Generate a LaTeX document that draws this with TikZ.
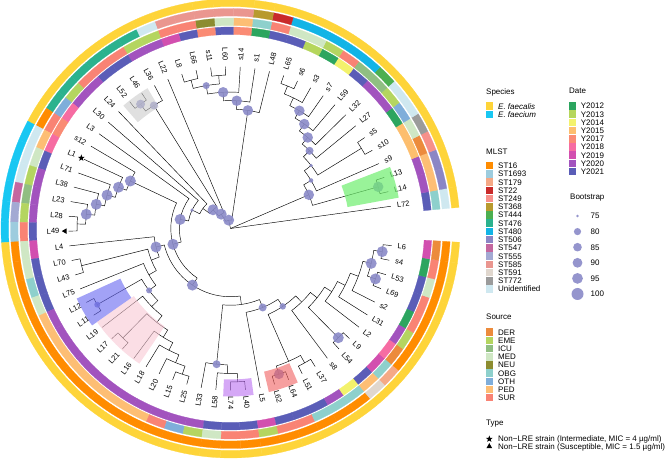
\documentclass[tikz,border=0pt]{standalone}
\usepackage{fontspec}
\setmainfont{Liberation Sans}
\usetikzlibrary{shapes.geometric,positioning}

% species
\definecolor{fs}{HTML}{FED439}
\definecolor{fm}{HTML}{18C7F2}
% MLST
\definecolor{m16}{HTML}{FF8C00}
\definecolor{m1693}{HTML}{9DCCDE}
\definecolor{m179}{HTML}{F5A986}
\definecolor{m22}{HTML}{C92A2A}
\definecolor{m249}{HTML}{F7908A}
\definecolor{m368}{HTML}{B89A2E}
\definecolor{m444}{HTML}{4CAF50}
\definecolor{m476}{HTML}{2BB28E}
\definecolor{m480}{HTML}{12B4E6}
\definecolor{m506}{HTML}{8B86C5}
\definecolor{m547}{HTML}{C4679F}
\definecolor{m555}{HTML}{A3A9D3}
\definecolor{m585}{HTML}{EA968F}
\definecolor{m591}{HTML}{E0D7CE}
\definecolor{m772}{HTML}{9B9B9B}
\definecolor{mUn}{HTML}{CFE8F0}
% source
\definecolor{sDER}{HTML}{EC8B3C}
\definecolor{sEME}{HTML}{B4D560}
\definecolor{sICU}{HTML}{90BE82}
\definecolor{sMED}{HTML}{CFE7C4}
\definecolor{sNEU}{HTML}{8C8C30}
\definecolor{sOBG}{HTML}{8ED0CC}
\definecolor{sOTH}{HTML}{7FAEDA}
\definecolor{sPED}{HTML}{FDBE74}
\definecolor{sSUR}{HTML}{F98374}
% date
\definecolor{d12}{HTML}{2CA55F}
\definecolor{d13}{HTML}{B5D65C}
\definecolor{d14}{HTML}{F3F26C}
\definecolor{d15}{HTML}{FDBE6E}
\definecolor{d17}{HTML}{FA8B74}
\definecolor{d18}{HTML}{F66CA2}
\definecolor{d19}{HTML}{D24FAF}
\definecolor{d20}{HTML}{A253BE}
\definecolor{d21}{HTML}{5A5DB7}
\definecolor{bsc}{HTML}{8A8AC8}

% one annular tile of a ring
\newcommand\ringtile[5]{%
  \fill[#5, draw=#5, line width=0.25pt] (#1:#3) arc[start angle=#1, end angle=#2, radius=#3]
    -- (#2:#4) arc[start angle=#2, end angle=#1, radius=#4] -- cycle;}
\newcommand\hilite[5]{%
  \fill[#5] (#1:#3) arc[start angle=#1, end angle=#2, radius=#3]
    -- (#2:#4) arc[start angle=#2, end angle=#1, radius=#4] -- cycle;}
% tip: name, slot, label radius
\newcommand\tipnode[3]{%
  \pgfmathsetmacro\tang{7.9+5.243*#2}%
  \expandafter\xdef\csname ty@#1\endcsname{#2}%
  \expandafter\xdef\csname th@#1\endcsname{0}%
  \coordinate (#1) at (\tang:162);
  \pgfmathtruncatemacro\tflip{(\tang>90)&&(\tang<270)}%
  \ifnum\tflip=1
    \pgfmathsetmacro\trot{\tang-180}%
    \node[tiplab, anchor=east, rotate=\trot] (#1-lab) at (\tang:#3) {#1};
  \else
    \node[tiplab, anchor=west, rotate=\tang] (#1-lab) at (\tang:#3) {#1};
  \fi}
% clade: parent, first child, second child
\newcommand\clade[3]{%
  \edef\cya{\csname ty@#2\endcsname}\edef\cyb{\csname ty@#3\endcsname}%
  \edef\cha{\csname th@#2\endcsname}\edef\chb{\csname th@#3\endcsname}%
  \pgfmathsetmacro\cyp{(\cya+\cyb)/2}%
  \pgfmathsetmacro\chp{max(\cha,\chb)+1}%
  \pgfmathsetmacro\crp{162-8.526*\chp}%
  \pgfmathsetmacro\caa{7.9+5.243*\cya}%
  \pgfmathsetmacro\cab{7.9+5.243*\cyb}%
  \pgfmathsetmacro\cang{7.9+5.243*\cyp}%
  \expandafter\xdef\csname ty@#1\endcsname{\cyp}%
  \expandafter\xdef\csname th@#1\endcsname{\chp}%
  \coordinate (#1) at (\cang:\crp);
  \coordinate (#1-a) at (\caa:\crp);
  \draw[branch] (#2) -- (#1-a) arc[start angle=\caa, end angle=\cab, radius=\crp] -- (#3);}
\newcommand\bs[2]{\node[bsdot, minimum size=#2] (#1-bs) at (#1) {};}

\begin{document}
\begin{tikzpicture}[x=1pt, y=1pt,
  branch/.style={line width=0.45pt, black},
  tiplab/.style={font=\fontsize{7.5}{9}\selectfont, inner sep=0pt},
  bsdot/.style={circle, fill=bsc, fill opacity=0.9, inner sep=0pt},
  swatch/.style={rectangle, minimum width=6.8, minimum height=7.6, inner sep=0pt},
  legtext/.style={font=\fontsize{8}{9.6}\selectfont, inner sep=0pt, anchor=base west},
  legtitle/.style={font=\fontsize{8}{9.6}\selectfont, inner sep=0pt, anchor=base west},
  hlgreen/.style={fill={rgb,255:red,110;green,238;blue,110}, fill opacity=0.7},
  hlgrey/.style={fill=black!20, fill opacity=0.6},
  hlblue/.style={fill={rgb,255:red,100;green,100;blue,240}, fill opacity=0.6},
  hlpink/.style={fill={rgb,255:red,248;green,200;blue,212}, fill opacity=0.6},
  hlpurple/.style={fill={rgb,255:red,185;green,110;blue,240}, fill opacity=0.6},
  hlred/.style={fill={rgb,255:red,240;green,95;blue,95}, fill opacity=0.6}]
\useasboundingbox (0,0) rectangle (669,463);

\begin{scope}[shift={(230.5,234.5)}]
% rings: date, source, MLST, species
\foreach \cm/\cs/\cd/\cp [count=\i from 0] in {
  mUn/sOBG/d21/fs, m506/sPED/d20/fs, m506/sPED/d20/fs, m249/sDER/d15/fs,
  m772/sMED/d15/fs, mUn/sOTH/d12/fs, mUn/sEME/d20/fs, m444/sICU/d20/fs,
  m480/sICU/d21/fs, m480/sSUR/d14/fs, m480/sEME/d12/fs, m480/sMED/d13/fs,
  m480/sMED/d21/fs, m22/sSUR/d21/fs, m368/sOBG/d12/fs, m585/sPED/d17/fs,
  m585/sMED/d21/fs, m585/sNEU/d17/fs, m585/sSUR/d21/fs, m585/sSUR/d19/fs,
  mUn/sEME/d20/fs, m476/sEME/d20/fs, m476/sSUR/d21/fs, m476/sSUR/d21/fs,
  m476/sSUR/d20/fs, m476/sEME/d20/fs, m476/sOTH/d18/fs, m16/sSUR/d17/fs,
  mUn/sPED/d18/fm, mUn/sMED/d21/fm, mUn/sEME/d20/fm, m547/sICU/d20/fm,
  m555/sEME/d20/fm, m1693/sSUR/d21/fm, m16/sMED/d19/fs, m16/sMED/d21/fs,
  m16/sOBG/d21/fs, m16/sMED/d21/fs, m16/sPED/d20/fs, m16/sPED/d20/fs,
  m16/sPED/d20/fs, m16/sPED/d20/fs, m16/sPED/d20/fs, m16/sPED/d20/fs,
  m16/sPED/d20/fs, m16/sPED/d20/fs, m16/sSUR/d20/fs, m16/sOTH/d20/fs,
  m16/sEME/d20/fs, m16/sMED/d21/fs, m16/sSUR/d21/fs, m16/sSUR/d21/fs,
  m16/sEME/d19/fs, m16/sSUR/d21/fs, m16/sSUR/d21/fs, m16/sOBG/d21/fs,
  m16/sOBG/d20/fs, m16/sOBG/d14/fs, m591/sPED/d21/fs, m179/sOBG/d19/fs,
  m16/sDER/d18/fs, m16/sEME/d20/fs, m16/sSUR/d12/fs, m16/sSUR/d21/fs,
  m16/sMED/d21/fs, m16/sSUR/d12/fs, m16/sDER/d19/fs}{
  \pgfmathsetmacro\ta{5.2785+5.243*\i}
  \pgfmathsetmacro\tb{\ta+5.243}
  \ringtile{\ta}{\tb}{194}{201.5}{\cd}
  \ringtile{\ta}{\tb}{203}{210.5}{\cs}
  \ringtile{\ta}{\tb}{212.5}{220}{\cm}
  \ringtile{\ta}{\tb}{222}{229.5}{\cp}
}

% tips
\tipnode{L72}{0}{168} \tipnode{L14}{1}{168} \tipnode{L13}{2}{168} \tipnode{s9}{3}{168}
\tipnode{s10}{4}{168} \tipnode{s5}{5}{168} \tipnode{L27}{6}{168} \tipnode{L32}{7}{168}
\tipnode{L59}{8}{168} \tipnode{s7}{9}{168} \tipnode{s3}{10}{168} \tipnode{s6}{11}{168}
\tipnode{L65}{12}{168} \tipnode{L48}{13}{168} \tipnode{s1}{14}{168} \tipnode{s14}{15}{168}
\tipnode{L60}{16}{168} \tipnode{s11}{17}{168} \tipnode{L66}{18}{168} \tipnode{L8}{19}{168}
\tipnode{L22}{20}{168} \tipnode{L36}{21}{168} \tipnode{L46}{22}{168} \tipnode{L52}{23}{168}
\tipnode{L24}{24}{168} \tipnode{L30}{25}{168} \tipnode{L3}{26}{168} \tipnode{s12}{27}{168}
\tipnode{L1}{28}{171} \tipnode{L71}{29}{168} \tipnode{L38}{30}{168} \tipnode{L23}{31}{168}
\tipnode{L28}{32}{168} \tipnode{L49}{33}{171} \tipnode{L4}{34}{168} \tipnode{L70}{35}{168}
\tipnode{L43}{36}{168} \tipnode{L75}{37}{168} \tipnode{L12}{38}{168} \tipnode{L11}{39}{168}
\tipnode{L19}{40}{168} \tipnode{L17}{41}{168} \tipnode{L21}{42}{168} \tipnode{L16}{43}{168}
\tipnode{L18}{44}{168} \tipnode{L20}{45}{168} \tipnode{L15}{46}{168} \tipnode{L25}{47}{168}
\tipnode{L33}{48}{168} \tipnode{L58}{49}{168} \tipnode{L74}{50}{168} \tipnode{L40}{51}{168}
\tipnode{L5}{52}{168} \tipnode{L62}{53}{168} \tipnode{L64}{54}{168} \tipnode{L51}{55}{168}
\tipnode{L37}{56}{168} \tipnode{s8}{57}{168} \tipnode{L54}{58}{168} \tipnode{L9}{59}{168}
\tipnode{L2}{60}{168} \tipnode{L31}{61}{168} \tipnode{s2}{62}{168} \tipnode{L69}{63}{168}
\tipnode{L53}{64}{168} \tipnode{s4}{65}{168} \tipnode{L6}{66}{168}

% s clade
\clade{c1}{L14}{L13}
\clade{c2}{s6}{L65}
\clade{c3}{s3}{c2}
\clade{c4}{s7}{c3}
\clade{c5}{L59}{c4}
\clade{c6}{L32}{c5}
\clade{c7}{L27}{c6}
\clade{c8}{s10}{s5}
\clade{c9}{c8}{c7}
\clade{c10}{s9}{c9}
\clade{cS}{c1}{c10}
% top clade
\clade{t1}{s11}{L60}
\clade{t2}{L66}{L8}
\clade{t3}{t1}{t2}
\clade{t4}{s14}{t3}
\clade{t5}{s1}{t4}
\clade{cT}{L48}{t5}
% upper left
\clade{g1}{L46}{L52}
\clade{g2}{L36}{g1}
\clade{e1}{L28}{L49}
\clade{e2}{L23}{e1}
\clade{e3}{L38}{e2}
\clade{e4}{L71}{e3}
\clade{e5}{L1}{e4}
\clade{e6}{s12}{e5}
% lower left
\clade{k1}{L15}{L25}
\clade{k2}{L20}{k1}
\clade{k3}{L18}{k2}
\clade{k4}{L16}{k3}
\clade{k5}{L17}{L21}
\clade{k6}{k5}{k4}
\clade{k7}{L19}{k6}
\clade{k8}{L12}{L11}
\clade{k9}{k8}{k7}
\clade{k10}{L75}{k9}
\clade{k11}{L70}{L43}
\clade{k12}{k11}{k10}
\clade{k13}{L4}{k12}
% bottom and lower right
\clade{m1}{L74}{L40}
\clade{m2}{L58}{m1}
\clade{m3}{L33}{m2}
\clade{n1}{L62}{L64}
\clade{n2}{L51}{L37}
\clade{n3}{n1}{n2}
\clade{r1}{s4}{L6}
\clade{r2}{L69}{L53}
\clade{r3}{r2}{r1}
\clade{r4}{s2}{r3}
\clade{r5}{L31}{r4}
\clade{r6}{L2}{r5}
\clade{r7}{L54}{L9}
\clade{r8}{r7}{r6}
\clade{r9}{s8}{r8}
\clade{r10}{n3}{r9}
\clade{r11}{L5}{r10}
% backbone
\clade{b1}{m3}{r11}
\clade{b2}{k13}{b1}
\clade{b3}{e6}{b2}
\clade{b4}{L3}{b3}
\clade{b5}{L30}{b4}
\clade{b6}{L24}{b5}
\clade{b7}{g2}{b6}
\clade{b8}{L22}{b7}
\clade{y1}{cT}{b8}
\coordinate (root) at (0,0);
\draw[branch] (root) -- (L72);
\draw[branch] (root) -- (cS);
\draw[branch] (root) -- (y1);

% non-LRE marks
\node[star, star points=5, star point ratio=2.4, fill=black, inner sep=0pt, minimum size=7] (L1-mark) at (154.7:165) {};
\node[regular polygon, regular polygon sides=3, fill=black, inner sep=0pt, minimum size=6.5, rotate=90] (L49-mark) at (180.9:165.5) {};

% bootstrap
\bs{c4}{10.5} \bs{c5}{10.5} \bs{c6}{10.5} \bs{c7}{8} \bs{c9}{3.5} \bs{c10}{4.5}
\bs{cS}{10.5} \bs{c1}{10.5}
\bs{t3}{7} \bs{t4}{10.5} \bs{t5}{10.5} \bs{cT}{10.5}
\bs{g1}{9} \bs{g2}{8}
\bs{e2}{11} \bs{e3}{11} \bs{e4}{11} \bs{e5}{11} \bs{e6}{11}
\bs{k8}{6} \bs{k9}{6} \bs{k13}{11}
\bs{m3}{8} \bs{n1}{10} \bs{r1}{11} \bs{r2}{11} \bs{r3}{11} \bs{r7}{11}
\bs{r10}{6.5} \bs{r11}{8}
\bs{b2}{11} \bs{b3}{11} \bs{b4}{11} \bs{b5}{3.5} \bs{b7}{11} \bs{b8}{11} \bs{y1}{11}

% highlighted clades
\hilite{10.4}{21.1}{119}{171}{hlgreen}
\hilite{120.6}{131.1}{141}{163}{hlgrey}
\hilite{204.5}{215.0}{121}{169}{hlblue}
\hilite{215.0}{236.0}{118}{163}{hlpink}
\hilite{267.5}{277.9}{151}{168}{hlpurple}
\hilite{283.2}{293.6}{147}{168}{hlred}
\end{scope}

% legend: species
\node[legtitle] (t-species) at (486,{463-94.5}) {Species};
\node[swatch, fill=fs] (k-fs) at (489.3,{463-106.2}) {};
\node[legtext] (k-fs-t) at (498,{463-109.1}) {\textit{E. faecalis}};
\node[swatch, fill=fm] (k-fm) at (489.3,{463-114.6}) {};
\node[legtext] (k-fm-t) at (498,{463-117.5}) {\textit{E. faecium}};

% legend: MLST
\node[legtitle] (t-mlst) at (486,{463-155}) {MLST};
\foreach \c/\t [count=\k from 0] in {m16/ST16, m1693/ST1693, m179/ST179, m22/ST22,
  m249/ST249, m368/ST368, m444/ST444, m476/ST476, m480/ST480, m506/ST506,
  m547/ST547, m555/ST555, m585/ST585, m591/ST591, m772/ST772, mUn/Unidentified}{
  \node[swatch, fill=\c] (k-\c) at (489.3,{463-165.7-8.22*\k}) {};
  \node[legtext] (k-\c-t) at (498,{463-168.6-8.22*\k}) {\t};
}

% legend: source
\node[legtitle] (t-source) at (486,{463-320}) {Source};
\foreach \c/\t [count=\k from 0] in {sDER/DER, sEME/EME, sICU/ICU, sMED/MED,
  sNEU/NEU, sOBG/OBG, sOTH/OTH, sPED/PED, sSUR/SUR}{
  \node[swatch, fill=\c] (k-\c) at (489.3,{463-332.3-8.17*\k}) {};
  \node[legtext] (k-\c-t) at (498,{463-335.2-8.17*\k}) {\t};
}

% legend: date
\node[legtitle] (t-date) at (569,{463-94}) {Date};
\foreach \c/\t [count=\k from 0] in {d12/Y2012, d13/Y2013, d14/Y2014, d15/Y2015,
  d17/Y2017, d18/Y2018, d19/Y2019, d20/Y2020, d21/Y2021}{
  \node[swatch, fill=\c] (k-\c) at (572.3,{463-106-8.21*\k}) {};
  \node[legtext] (k-\c-t) at (580.7,{463-108.9-8.21*\k}) {\t};
}

% legend: bootstrap
\node[legtitle] (t-boot) at (570,{463-200}) {Bootstrap};
\foreach \v/\w [count=\k from 0] in {75/2.8, 80/7.2, 85/8.6, 90/9.8, 95/10.8, 100/12}{
  \node[bsdot, minimum size=\w] (k-bs\v) at (577.5,{463-216-15.6*\k}) {};
  \node[legtext] (k-bs\v-t) at (590.5,{463-218.9-15.6*\k}) {\v};
}

% legend: type
\node[legtitle] (t-type) at (486,{463-426}) {Type};
\node[star, star points=5, star point ratio=2.4, fill=black, inner sep=0pt, minimum size=7] (k-star) at (489.3,{463-439}) {};
\node[legtext] (k-star-t) at (498,{463-441.9}) {Non−LRE strain (Intermediate, MIC = 4 µg/ml)};
\node[regular polygon, regular polygon sides=3, fill=black, inner sep=0pt, minimum size=6.5] (k-tri) at (489.3,{463-446.4}) {};
\node[legtext] (k-tri-t) at (498,{463-449.6}) {Non−LRE strain (Susceptible, MIC = 1.5 µg/ml)};
\end{tikzpicture}
\end{document}
